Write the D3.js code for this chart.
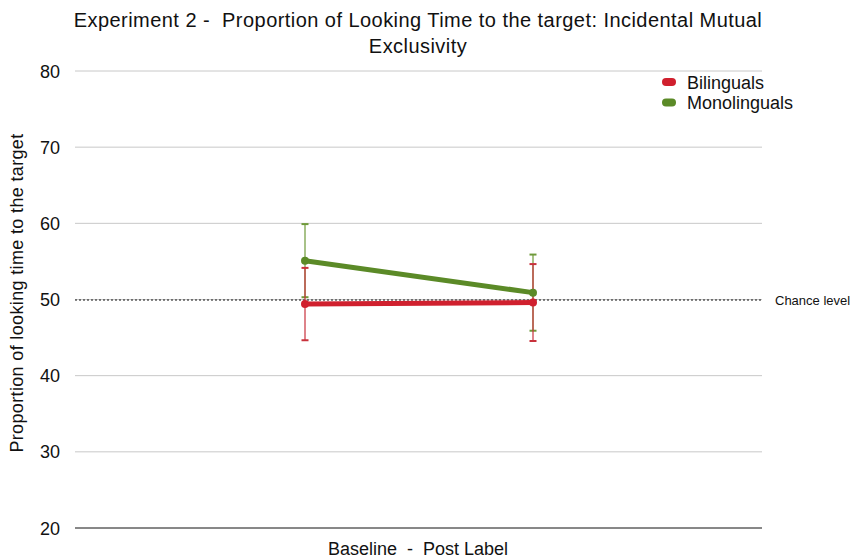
<!DOCTYPE html>
<html>
<head>
<meta charset="utf-8">
<script src="https://cdn.jsdelivr.net/npm/d3@7"></script>
<style>
  html, body { margin: 0; padding: 0; background: #fff; }
  svg text { font-family: "Liberation Sans", Arial, Helvetica, sans-serif; fill: #111; white-space: pre; }
</style>
</head>
<body>
<svg id="chart" width="855" height="559"></svg>
<script>
// Phases on the x axis
const phases = ["Baseline", "Post Label"];
// Group names
const groups = ["Bilinguals", "Monolinguals"];
// Mean proportion of looking time (%) per phase
const bilingualMeans = [49.4, 49.6];
const monolingualMeans = [55.1, 50.9];
// Error bar half-widths
const bilingualErr = [4.75, 5.05];
const monolingualErr = [4.8, 5.0];
// Y axis tick values
const yTicks = [20, 30, 40, 50, 60, 70, 80];
const chanceLevel = 50;

const colors = { Bilinguals: "#d0202e", Monolinguals: "#5b8a27" };
const errColors = { Bilinguals: "#c8323c", Monolinguals: "#6f9a3a" };

const series = [
  { name: "Monolinguals", means: monolingualMeans, err: monolingualErr },
  { name: "Bilinguals", means: bilingualMeans, err: bilingualErr }
];

const svg = d3.select("#chart");
const plotLeft = 75, plotRight = 762, plotTop = 71, plotBottom = 528;

const y = d3.scaleLinear().domain([20, 80]).range([plotBottom, plotTop]);
const x = d3.scalePoint().domain(phases).range([305, 533]);

// Horizontal gridlines
svg.append("g").selectAll("line").data(yTicks.filter(t => t !== 20)).join("line")
  .attr("x1", plotLeft).attr("x2", plotRight)
  .attr("y1", d => y(d)).attr("y2", d => y(d))
  .attr("stroke", "#c8c8c8").attr("stroke-width", 1);

// Baseline axis line
svg.append("line")
  .attr("x1", plotLeft).attr("x2", plotRight)
  .attr("y1", y(20)).attr("y2", y(20))
  .attr("stroke", "#111").attr("stroke-width", 1);

// Y tick labels
svg.append("g").selectAll("text").data(yTicks).join("text")
  .attr("x", 60).attr("y", d => y(d) + 6.5)
  .attr("text-anchor", "end").attr("font-size", 18)
  .text(d => d);

// Chance level
svg.append("line")
  .attr("x1", plotLeft).attr("x2", plotRight)
  .attr("y1", y(chanceLevel) + 0.5).attr("y2", y(chanceLevel) + 0.5)
  .attr("stroke", "#111").attr("stroke-width", 1)
  .attr("stroke-dasharray", "2,2");
svg.append("text")
  .attr("x", 775).attr("y", y(chanceLevel) + 5)
  .attr("font-size", 13).text("Chance level");

// Error bars
series.forEach(s => {
  const g = svg.append("g");
  phases.forEach((p, i) => {
    const cx = x(p), hi = y(s.means[i] + s.err[i]), lo = y(s.means[i] - s.err[i]);
    g.append("line").attr("x1", cx).attr("x2", cx).attr("y1", hi).attr("y2", lo)
      .attr("stroke", errColors[s.name]).attr("stroke-width", 1.5).attr("opacity", 0.8);
    [hi, lo].forEach(v => g.append("line")
      .attr("x1", cx - 3.5).attr("x2", cx + 3.5).attr("y1", v).attr("y2", v)
      .attr("stroke", errColors[s.name]).attr("stroke-width", 2));
  });
});

// Lines and points
series.forEach(s => {
  const line = d3.line().x((d, i) => x(phases[i])).y(d => y(d));
  svg.append("path").datum(s.means)
    .attr("d", line).attr("fill", "none")
    .attr("stroke", colors[s.name]).attr("stroke-width", 5)
    .attr("stroke-linecap", "round");
  svg.append("g").selectAll("circle").data(s.means).join("circle")
    .attr("cx", (d, i) => x(phases[i])).attr("cy", d => y(d)).attr("r", 4)
    .attr("fill", colors[s.name]);
});

// Title
svg.append("text").attr("x", 418).attr("y", 27).attr("text-anchor", "middle")
  .attr("font-size", 20).attr("letter-spacing", 0.45)
  .text("Experiment 2 -  Proportion of Looking Time to the target: Incidental Mutual");
svg.append("text").attr("x", 418).attr("y", 53).attr("text-anchor", "middle")
  .attr("font-size", 20).attr("letter-spacing", 0.45).text("Exclusivity");

// Axis titles
svg.append("text").attr("transform", "translate(23,293) rotate(-90)")
  .attr("text-anchor", "middle").attr("font-size", 18).attr("letter-spacing", 0.35)
  .text("Proportion of looking time to the target");
svg.append("text").attr("x", 418).attr("y", 555).attr("text-anchor", "middle")
  .attr("font-size", 18).text("Baseline  -  Post Label");

// Legend
const legend = svg.append("g").selectAll("g").data(groups).join("g")
  .attr("transform", (d, i) => `translate(669,${82 + i * 20.5})`);
legend.append("line").attr("x1", -3).attr("x2", 3).attr("y1", 0).attr("y2", 0)
  .attr("stroke", d => colors[d]).attr("stroke-width", 8).attr("stroke-linecap", "round");
legend.append("text").attr("x", 18).attr("y", 6.5).attr("font-size", 18).text(d => d);
</script>
</body>
</html>
